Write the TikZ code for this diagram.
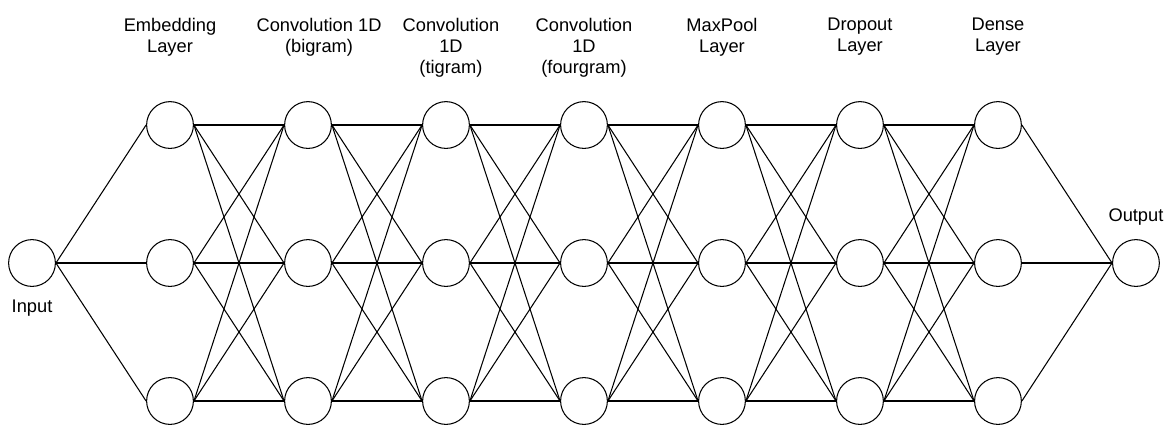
\documentclass[tikz,border=0pt]{standalone}
\usepackage{fontspec}
\setmainfont{Liberation Sans}
\begin{document}
\begin{tikzpicture}[x=3.45cm, y=3.45cm, line width=0.75pt,
        neuron/.style={draw, circle, minimum size=1.17cm, inner sep=0pt},
        layername/.style={anchor=north, align=center, inner sep=0pt,
            font=\fontsize{13}{15}\selectfont}]
        \useasboundingbox (-0.232, -1.174) rectangle (8.254, 1.906);
        % input and output neurons
        \node [neuron] (in) at (0, 0) {};
        \node [neuron] (out) at (8, 0) {};
        \node [below=0.2cm, font=\fontsize{13}{15}\selectfont] (inlabel) at (in.south) {Input};
        \node [above=0.22cm, font=\fontsize{13}{15}\selectfont] (outlabel) at (out.north) {Output};
        % hidden layers, three neurons each
        \foreach \i in {1,...,7}
            \foreach \j in {1,2,3}
                \node [neuron] (n-\i-\j) at (\i, {2-\j}) {};
        \foreach \j in {1,2,3} {
            \draw (in.east) -- (n-1-\j.west);
            \draw (n-7-\j.east) -- (out.west);
        }
        % every neuron joined to every neuron of the next layer
        \foreach \i in {1,...,6} {
            \pgfmathtruncatemacro{\k}{\i+1}
            \foreach \j in {1,2,3}
                \foreach \m in {1,2,3}
                    \draw (n-\i-\j.east) -- (n-\k-\m.west);
        }
        % layer names
        \node [layername] (l1) at (1, 1.78) {Embedding\\Layer};
        \node [layername] (l2) at (2.08, 1.78) {Convolution 1D\\(bigram)};
        \node [layername] (l3) at (3.036, 1.78) {Convolution\\1D\\(tigram)};
        \node [layername] (l4) at (4, 1.78) {Convolution\\1D\\(fourgram)};
        \node [layername] (l5) at (5, 1.78) {MaxPool\\Layer};
        \node [layername] (l6) at (6, 1.78) {Dropout\\Layer};
        \node [layername] (l7) at (7, 1.78) {Dense\\Layer};
    \end{tikzpicture}
\end{document}
